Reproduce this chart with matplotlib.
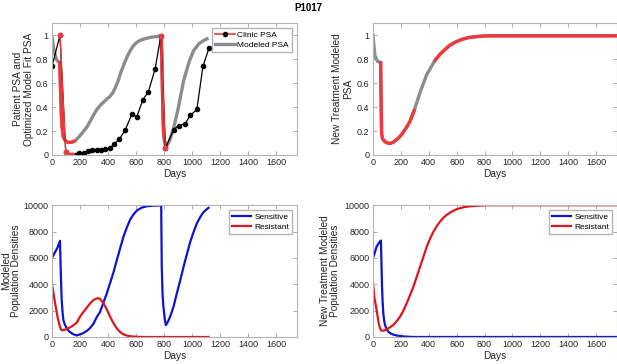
import numpy as np
import matplotlib
matplotlib.use("Agg")
import matplotlib.pyplot as plt
from matplotlib.lines import Line2D

plt.rcParams['font.family'] = ['Liberation Sans', 'DejaVu Sans']
plt.rcParams['font.size'] = 7

# clinic PSA (normalized)
clinic_days = [0, 57, 98, 145, 169, 196, 229, 260, 289, 319, 348, 379, 415, 444, 482,
               522, 570, 606, 649, 689, 737, 777, 810, 868, 904, 951, 987, 1035, 1078, 1121]
clinic_psa = [0.74, 1.0, 0.028, 0.0, 0.0, 0.014, 0.02, 0.033, 0.04, 0.045, 0.045, 0.047, 0.06,
              0.09, 0.135, 0.205, 0.34, 0.32, 0.46, 0.53, 0.72, 0.994, 0.056, 0.21, 0.245,
              0.26, 0.33, 0.38, 0.74, 0.89]
clinic_on = [(57, 145), (777, 810)]

# fitted model PSA
model_days = [0, 10, 21, 35, 45, 55, 62, 69, 75, 81, 92, 105, 120, 141, 160, 172, 195, 224,
              250, 272, 295, 319, 345, 367, 390, 415, 435, 451, 470, 486, 505, 522, 540, 558,
              580, 606, 640, 677, 720, 760, 780, 784, 788, 792, 797, 803, 810, 815, 825, 840,
              868, 900, 940, 980, 1011, 1050, 1090, 1118]
model_psa = [0.99, 0.9, 0.84, 0.79, 0.78, 0.77, 0.5, 0.28, 0.2, 0.15, 0.125, 0.11, 0.105,
             0.107, 0.115, 0.126, 0.155, 0.196, 0.235, 0.28, 0.33, 0.378, 0.415, 0.44, 0.465,
             0.49, 0.52, 0.56, 0.61, 0.67, 0.73, 0.78, 0.83, 0.87, 0.91, 0.94, 0.963, 0.975,
             0.985, 0.99, 0.99, 0.85, 0.6, 0.38, 0.2, 0.12, 0.085, 0.075, 0.085, 0.12, 0.22,
             0.38, 0.62, 0.78, 0.87, 0.93, 0.96, 0.975]
model_on = [(55, 160), (780, 815)]

# new treatment model PSA
new_days = [0, 5, 14, 25, 34, 50, 55, 58, 62, 68, 74, 90, 110, 124, 146, 181, 205, 229,
            265, 295, 337, 385, 445, 480, 516, 550, 587, 630, 683, 740, 802, 900, 1000,
            1200, 1400, 1600, 1750]
new_psa = [1.0, 0.93, 0.83, 0.8, 0.78, 0.775, 0.77, 0.5, 0.18, 0.14, 0.126, 0.108, 0.098,
           0.097, 0.107, 0.14, 0.17, 0.21, 0.28, 0.37, 0.52, 0.67, 0.79, 0.84, 0.88, 0.915,
           0.94, 0.962, 0.98, 0.988, 0.994, 0.995, 0.995, 0.995, 0.995, 0.995, 0.995]
new_on = [(55, 295), (445, 1750)]

# modeled populations (fitted)
pop_days = [0, 20, 40, 57, 62, 66, 69, 75, 81, 93, 105, 120, 141, 160, 177, 200, 224, 250,
            272, 296, 319, 331, 343, 367, 391, 415, 439, 462, 486, 510, 534, 558, 582, 606,
            642, 677, 713, 740, 772, 780, 784, 790, 796, 805, 813, 825, 844, 868, 892, 916,
            940, 964, 988, 1011, 1035, 1059, 1080, 1100, 1118]
sens = [6000, 6400, 6800, 7300, 5200, 3800, 2810, 1900, 1290, 900, 660, 450, 280, 170, 120,
        200, 300, 470, 680, 1000, 1500, 1700, 1900, 2600, 3300, 4100, 4900, 5800, 6700, 7600,
        8300, 8900, 9300, 9600, 9820, 9920, 9960, 9975, 9985, 9985, 5340, 3200, 2300, 1400,
        900, 1100, 1540, 2300, 3320, 4300, 5340, 6300, 7240, 7950, 8630, 9100, 9450, 9650,
        9800]
resi = [4000, 2700, 1500, 760, 620, 560, 530, 520, 520, 560, 600, 680, 800, 950, 1100,
        1540, 1900, 2250, 2550, 2810, 2920, 2940, 2900, 2560, 2100, 1540, 1050, 660, 380,
        200, 110, 60, 30, 15, 5, 0, 0, 0, 0, 0, 0, 0, 0, 0, 0, 0, 0, 0, 0, 0, 0, 0, 0, 0, 0,
        0, 0, 0, 0]

# modeled populations (new treatment)
nt_days = [0, 10, 26, 40, 50, 57, 61, 65, 69, 74, 80, 86, 98, 110, 128, 146, 170, 194,
           218, 242, 266, 290, 314, 338, 362, 386, 410, 434, 458, 481, 505, 529, 565, 601,
           650, 697, 760, 817, 900, 1000, 1200, 1400, 1600, 1750]
nt_sens = [6000, 6300, 6860, 7100, 7250, 7320, 5500, 3820, 2700, 1800, 1250, 910, 600, 400,
           260, 180, 110, 76, 45, 25, 10, 0, 0, 0, 0, 0, 0, 0, 0, 0, 0, 0, 0, 0, 0, 0, 0, 0,
           0, 0, 0, 0, 0, 0]
nt_resi = [4076, 3000, 2050, 1100, 660, 520, 490, 480, 480, 480, 500, 530, 580, 660, 780,
           910, 1200, 1540, 2000, 2560, 3180, 3820, 4580, 5340, 6100, 6860, 7480, 8000, 8420,
           8760, 9050, 9270, 9520, 9700, 9850, 9920, 9970, 10000, 10000, 10000, 10000,
           10000, 10000, 10000]

days_ticks = np.arange(0, 1601, 200)
gray = '#8c8c8c'
lred = '#f0393c'
red = '#e0151b'
blue = '#0c14d2'
txt = '#262626'
TICK_FS = 6.5
LAB_FS = 7.3
LEG_FS = 6.0


def in_windows(d, windows):
    d = np.asarray(d)
    m = np.zeros(len(d), dtype=bool)
    for a, b in windows:
        m |= (d >= a) & (d <= b)
    return m


def style(ax, yticks, ylabels, ymax):
    ax.set_xlim(0, 1750)
    ax.set_ylim(0, ymax)
    ax.set_xticks(days_ticks)
    ax.set_yticks(yticks)
    ax.set_yticklabels(ylabels)
    ax.tick_params(direction='in', length=3, width=0.6, color='#a0a0a0', top=True,
                   right=True, pad=2.5, labelsize=TICK_FS, labelcolor=txt)
    for s in ax.spines.values():
        s.set_color('#b4b4b4')
        s.set_linewidth(0.8)
    ax.set_xlabel('Days', fontsize=LAB_FS, labelpad=1, color=txt)


def legend(ax, *args):
    ax.legend(*args, loc='upper right', fontsize=LEG_FS, fancybox=False,
              edgecolor='#b4b4b4', framealpha=1, handlelength=2.3, borderpad=0.35,
              labelspacing=0.3, handletextpad=0.35, borderaxespad=0.6)


fig = plt.figure(figsize=(6.17, 3.64), dpi=100)
ax1 = fig.add_axes([0.0843, 0.5742, 0.397, 0.362])
ax2 = fig.add_axes([0.6045, 0.5742, 0.3955, 0.362])
ax3 = fig.add_axes([0.0843, 0.0742, 0.397, 0.362])
ax4 = fig.add_axes([0.6045, 0.0742, 0.3955, 0.362])

psa_ticks = [0, 0.2, 0.4, 0.6, 0.8, 1.0]
psa_labels = ['0', '0.2', '0.4', '0.6', '0.8', '1']
pop_ticks = np.arange(0, 10001, 2000)
pop_labels = [str(v) for v in pop_ticks]

# top left
md = np.array(model_days, float)
mp = np.array(model_psa, float)
ax1.plot(md, mp, color=gray, lw=2.4, solid_capstyle='butt')
ax1.plot(md, np.where(in_windows(md, model_on), mp, np.nan), color=lred, lw=2.4)
cd = np.array(clinic_days, float)
cp = np.array(clinic_psa, float)
ax1.plot(cd, cp, color='black', lw=0.9, marker='o', ms=3.0)
con = in_windows(cd, clinic_on)
ax1.plot(cd, np.where(con, cp, np.nan), color=lred, lw=1.0, marker='o', ms=3.0)
style(ax1, psa_ticks, psa_labels, 1.1)
ax1.set_ylabel('Patient PSA and\nOptimized Model Fit PSA', fontsize=LAB_FS, labelpad=1.5,
               linespacing=1.1, color=txt)
h1 = Line2D([], [], color=lred, lw=1.2, marker='o', ms=3.0, mfc='black', mec='black')
h2 = Line2D([], [], color=gray, lw=2.4)
legend(ax1, [h1, h2], ['Clinic PSA', 'Modeled PSA'])

# top right
nd = np.array(new_days, float)
npsa = np.array(new_psa, float)
ax2.plot(nd, npsa, color=gray, lw=2.4)
ax2.plot(nd, np.where(in_windows(nd, new_on), npsa, np.nan), color=lred, lw=2.4)
style(ax2, psa_ticks, psa_labels, 1.1)
ax2.set_ylabel('New Treatment Modeled\nPSA', fontsize=LAB_FS, labelpad=3, linespacing=1.1,
               color=txt)

# bottom left
ax3.plot(pop_days, sens, color=blue, lw=1.6, label='Sensitive')
ax3.plot(pop_days, resi, color=red, lw=1.6, label='Resistant')
style(ax3, pop_ticks, pop_labels, 10000)
ax3.set_ylabel('Modeled\nPopulation Densities', fontsize=LAB_FS, labelpad=1.5,
               linespacing=1.1, color=txt)
legend(ax3)

# bottom right
ax4.plot(nt_days, nt_sens, color=blue, lw=1.6, label='Sensitive')
ax4.plot(nt_days, nt_resi, color=red, lw=1.6, label='Resistant')
style(ax4, pop_ticks, pop_labels, 10000)
ax4.set_ylabel('New Treatment Modeled\nPopulation Densities', fontsize=LAB_FS, labelpad=3,
               linespacing=1.1, color=txt)
legend(ax4)

fig.text(0.5, 0.992, 'P1017', ha='center', va='top', fontsize=7, fontweight='bold')

fig.savefig('out.png', dpi=100)
